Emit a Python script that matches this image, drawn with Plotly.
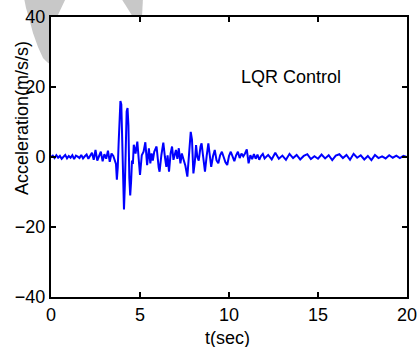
import plotly.graph_objects as go

# ---- data ----
t_quiet = [0.0, 0.1, 0.2, 0.3, 0.4, 0.5, 0.6, 0.7, 0.8, 0.9, 1.0, 1.1, 1.2, 1.3, 1.4, 1.5,
           1.6, 1.7, 1.8, 1.9, 2.0, 2.1, 2.2]
a_quiet = [0.0, 0.4, -0.3, 0.5, -0.2, 0.3, -0.5, 0.2, 0.6, -0.4, 0.3, -0.2, 0.5, -0.6, 0.4, 0.1,
           -0.3, 0.6, -0.4, 0.2, 0.7, -0.5, 0.3]

t_pre = [2.3, 2.4, 2.5, 2.6, 2.7, 2.8, 2.9, 3.0, 3.1, 3.2, 3.3, 3.4, 3.5, 3.6]
a_pre = [1.2, -0.8, 2.0, -1.0, 0.6, 1.5, -1.2, 0.8, -0.5, 1.8, -1.4, 1.0, 0.3, -1.5]

t_strong = [3.65, 3.70, 3.75, 3.80, 3.85, 3.90, 3.95, 4.00, 4.05, 4.10, 4.15, 4.20, 4.25,
            4.30, 4.35, 4.40, 4.45, 4.50, 4.55, 4.60]
a_strong = [-2.0, -6.5, -3.0, 4.0, 12.0, 16.0, 15.0, 2.0, -12.0, -15.0, -8.0, 5.0, 13.0,
            14.0, 9.0, -6.0, -11.0, -7.0, -1.0, -2.0]

t_after = [4.65, 4.75, 4.85, 4.95, 5.00, 5.10, 5.20, 5.30, 5.40, 5.50, 5.58, 5.65, 5.72, 5.80,
           5.93, 6.05, 6.10, 6.20, 6.31, 6.40, 6.48, 6.55, 6.63, 6.72, 6.80, 6.88, 6.95, 7.02,
           7.10, 7.18, 7.27, 7.35, 7.45, 7.55, 7.66, 7.75, 7.85, 7.92, 8.00, 8.08, 8.15, 8.22,
           8.30, 8.40, 8.46, 8.55, 8.65, 8.75, 8.84, 8.92, 9.00, 9.10, 9.20, 9.30, 9.40, 9.50,
           9.60, 9.70, 9.80, 9.90, 10.00, 10.10, 10.20, 10.30, 10.40, 10.50, 10.60, 10.70,
           10.80, 10.90, 11.00, 11.10, 11.20, 11.30, 11.40, 11.50, 11.60, 11.70, 11.80, 11.90,
           12.00]
a_after = [3.5, 1.0, 4.4, -2.0, -5.1, 0.5, 1.5, 4.2, -2.3, 2.5, -1.8, 1.0, -1.0, 1.5,
           3.0, -3.0, -4.2, 0.5, 4.1, 0.0, -2.8, 0.5, -4.2, 1.0, 3.0, -0.8, 1.0, 2.0,
           -0.5, 2.5, -1.8, 1.0, -0.8, -2.5, -5.6, 2.0, 7.2, 5.0, -4.7, -1.5, 3.4, 0.0,
           -1.0, 3.0, 3.9, 0.0, -4.2, 0.5, 3.9, 0.5, -2.8, 0.2, 2.0, -1.0, -1.8, 0.5,
           1.5, 0.0, -1.5, -2.3, 0.3, 1.5, 0.0, -1.2, 0.5, 1.5, -0.3, 1.0,
           0.2, 1.0, 2.2, -1.8, 0.5, -0.6, 0.8, -0.5, 0.7, -0.8, 0.3, 0.9,
           -0.4]

t_tail = [12.2, 12.4, 12.6, 12.8, 13.0, 13.2, 13.4, 13.6, 13.8, 14.0, 14.2, 14.4, 14.6, 14.8,
          15.0, 15.2, 15.4, 15.6, 15.8, 16.0, 16.2, 16.4, 16.6, 16.8, 17.0, 17.2, 17.4, 17.6,
          17.8, 18.0, 18.2, 18.4, 18.6, 18.8, 19.0, 19.2, 19.4, 19.6, 19.8, 20.0]
a_tail = [0.6, -0.7, 1.2, -0.5, 0.4, -0.8, 0.9, -0.3, 0.6, -0.7, 0.3, 0.8, -0.6, 0.2,
          -0.5, 0.7, -0.4, 0.5, -0.9, 0.4, 0.8, -0.3, 0.6, -0.8, 0.9, -0.2, 0.5, -0.7,
          0.3, -0.9, 0.6, -0.3, 0.2, -0.4, 0.5, -0.2, 0.4, -0.3, 0.3, 0.0]

x_ticks = [0, 5, 10, 15, 20]
y_ticks = [-40, -20, 0, 20, 40]
label_text = "LQR Control"
x_title = "t(sec)"
y_title = "Acceleration(m/s/s)"

t = t_quiet + t_pre + t_strong + t_after + t_tail
a = a_quiet + a_pre + a_strong + a_after + a_tail

# ---- figure ----
W, H = 419, 347
ML, MR, MT, MB = 51, 12, 17, 50
PW, PH = W - ML - MR, H - MT - MB


def px(x):
    return (x - ML) / PW


def py(y):
    return (H - MB - y) / PH


def path(points):
    s = "M " + " L ".join(f"{px(x):.4f},{py(y):.4f}" for x, y in points) + " Z"
    return s


fig = go.Figure()
fig.add_trace(go.Scatter(x=t, y=a, mode="lines",
                         line=dict(color="#0000ff", width=2), showlegend=False,
                         hoverinfo="skip", cliponaxis=True))

FAM = "Liberation Sans, Arial, sans-serif"
font = dict(family=FAM, size=18, color="black")

axis_common = dict(showline=True, linecolor="black", linewidth=2, mirror="ticks",
                   ticks="inside", ticklen=5, tickwidth=1.5, tickcolor="black",
                   showgrid=False, zeroline=False, tickfont=font, automargin=False)

fig.update_layout(
    width=W, height=H, autosize=False,
    margin=dict(l=ML, r=MR, t=MT, b=MB, pad=0, autoexpand=False),
    paper_bgcolor="white", plot_bgcolor="white",
    xaxis=dict(range=[0, 20], tickvals=x_ticks, **axis_common),
    yaxis=dict(range=[-40, 40], tickvals=y_ticks, **axis_common),
    shapes=[
        dict(type="path", xref="paper", yref="paper", layer="below",
             path=path([(24, -2), (66, -2), (57, 17), (51, 17), (51, 64), (48, 63),
                        (43, 58), (38, 47), (33, 33), (29, 18), (26, 8)]),
             fillcolor="#c8c8c8", line=dict(width=0)),
        dict(type="path", xref="paper", yref="paper", layer="below",
             path=path([(121, -2), (143, -2), (142, 17), (133, 17)]),
             fillcolor="#c8c8c8", line=dict(width=0)),
    ],
    annotations=[
        dict(text=label_text, x=13.5, y=23, xref="x", yref="y", showarrow=False,
             font=font),
        dict(text=x_title, x=px(227), y=py(338), xref="paper", yref="paper",
             showarrow=False, xanchor="center", yanchor="middle", font=font),
        dict(text=y_title, x=px(22), y=py(118), xref="paper", yref="paper",
             showarrow=False, xanchor="center", yanchor="middle", textangle=-90,
             font=font),
    ],
)

fig.write_html("out.html")
